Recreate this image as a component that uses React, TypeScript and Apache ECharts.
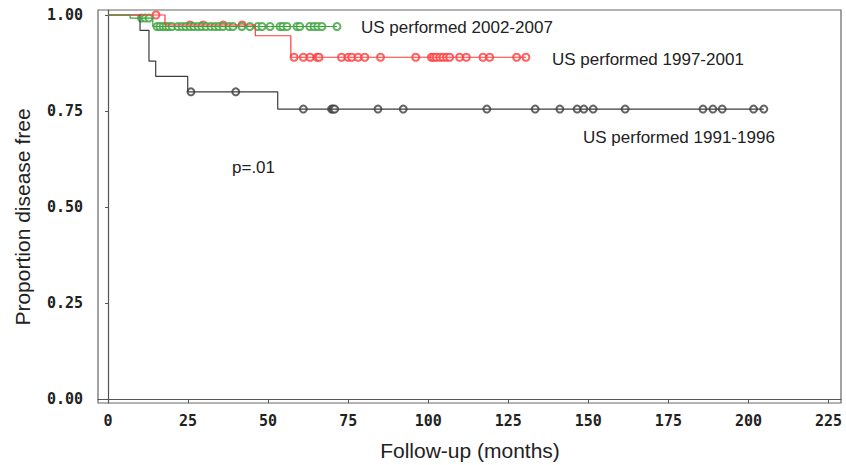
import React, { useEffect, useRef } from "react";
import * as echarts from "echarts";

// ---- Data (months / survival proportion) ----
const xTicks = [0, 25, 50, 75, 100, 125, 150, 175, 200, 225];
const yTicks = [0, 0.25, 0.5, 0.75, 1.0];

// 1991-1996 group
const blackTimes = [0, 10.0, 12.8, 14.9, 24.9, 53.0];
const blackSurv = [1, 0.96, 0.88, 0.84, 0.8, 0.755];
const blackEnd = 204.8;
const blackCensored = [25.9, 39.9, 61.0, 69.8, 70.3, 70.8, 84.3, 92.2, 118.3, 133.4, 141.1, 146.5, 148.6, 151.5, 161.5, 185.8, 188.9, 191.8, 201.6, 204.8];

// 1997-2001 group
const redTimes = [0, 17.8, 46.0, 57.1];
const redSurv = [1, 0.974, 0.946, 0.89];
const redEnd = 130.5;
const redCensored = [15.0, 25.6, 29.7, 36.0, 41.9, 58.1, 61.0, 63.1, 65.3, 65.9, 72.9, 75.0, 76.1, 78.1, 80.2, 85.1, 96.1, 101.0, 101.7, 102.5, 103.6, 104.6, 105.7, 106.7, 109.8, 111.9, 117.1, 119.2, 127.6, 130.5];

// 2002-2007 group
const greenTimes = [0, 6.9, 14.0];
const greenSurv = [1, 0.992, 0.97];
const greenEnd = 71.5;
const greenCensored = [10.4, 11.6, 12.8, 15.3, 16.2, 17.2, 18.1, 19.0, 20.0, 21.8, 23.1, 24.3, 25.6, 26.8, 28.1, 29.3, 30.6, 32.1, 33.4, 34.6, 35.9, 37.8, 39.0, 41.8, 44.3, 46.8, 48.1, 50.6, 53.7, 54.6, 55.9, 59.0, 59.9, 63.0, 64.3, 65.5, 66.8, 71.5];

const groupNames = ["US performed 1991-1996", "US performed 1997-2001", "US performed 2002-2007"];

function stepData(times: number[], surv: number[], end: number) {
  const d = times.map((t, i) => [t, surv[i]]);
  d.push([end, surv[surv.length - 1]]);
  return d;
}
function survAt(times: number[], surv: number[], t: number) {
  let s = surv[0];
  for (let i = 0; i < times.length; i++) if (times[i] <= t) s = surv[i];
  return s;
}

export default function App() {
  const ref = useRef<HTMLDivElement>(null);
  useEffect(() => {
    if (!ref.current) return;
    const chart = echarts.init(ref.current, null, { renderer: "svg" });
    const groups = [
      { times: blackTimes, surv: blackSurv, end: blackEnd, cens: blackCensored, color: "#3c3c3c", name: groupNames[0] },
      { times: redTimes, surv: redSurv, end: redEnd, cens: redCensored, color: "#ff3b3b", name: groupNames[1] },
      { times: greenTimes, surv: greenSurv, end: greenEnd, cens: greenCensored, color: "#3aa23a", name: groupNames[2] },
    ];
    const series: any[] = [];
    groups.forEach((g) => {
      series.push({
        type: "line",
        name: g.name,
        step: "end",
        data: stepData(g.times, g.surv, g.end),
        showSymbol: false,
        lineStyle: { color: g.color, width: 1.2 },
        itemStyle: { color: g.color },
        silent: true,
      });
      series.push({
        type: "scatter",
        name: g.name + " censored",
        data: g.cens.map((t) => [t, survAt(g.times, g.surv, t)]),
        symbol: "emptyCircle",
        symbolSize: 7,
        itemStyle: { color: g.color, borderColor: g.color, borderWidth: 1 },
        silent: true,
      });
    });
    const tickFont = { fontFamily: "DejaVu Sans Mono", fontWeight: "bold" as const, fontSize: 15, color: "#222" };
    const textFont = "Liberation Sans";
    chart.setOption({
      animation: false,
      grid: { left: 98, top: 10, width: 743, height: 393, show: true, borderColor: "#666", borderWidth: 1.2, backgroundColor: "#fff" },
      xAxis: {
        type: "value",
        min: -3.12,
        max: 228.9,
        splitLine: { show: false },
        axisLine: { show: true, lineStyle: { color: "#555", width: 1.2 } },
        axisTick: { show: true, customValues: xTicks, length: 4, lineStyle: { color: "#555" } },
        axisLabel: { customValues: xTicks, margin: 10, ...tickFont, formatter: (v: number) => String(Math.round(v)) },
      },
      yAxis: {
        type: "value",
        min: -0.0104,
        max: 1.013,
        splitLine: { show: false },
        axisLine: { show: true, lineStyle: { color: "#555", width: 1.2 } },
        axisTick: { show: true, customValues: yTicks, length: 3, lineStyle: { color: "#555" } },
        axisLabel: { customValues: yTicks, margin: 15, ...tickFont, formatter: (v: number) => v.toFixed(2) },
      },
      series,
      graphic: [
        { type: "text", left: 361, top: 19, style: { text: groupNames[2], fontFamily: textFont, fontSize: 17, fill: "#222" } },
        { type: "text", left: 552, top: 51, style: { text: groupNames[1], fontFamily: textFont, fontSize: 17, fill: "#222" } },
        { type: "text", left: 583, top: 129, style: { text: groupNames[0], fontFamily: textFont, fontSize: 17, fill: "#222" } },
        { type: "text", left: 232, top: 159, style: { text: "p=.01", fontFamily: textFont, fontSize: 17, fill: "#222" } },
        {
          type: "text",
          x: 22,
          y: 217,
          rotation: Math.PI / 2,
          style: { text: "Proportion disease free", fontFamily: textFont, fontSize: 21, fill: "#222", align: "center", verticalAlign: "middle" },
        },
        {
          type: "text",
          x: 470,
          y: 450,
          style: { text: "Follow-up (months)", fontFamily: textFont, fontSize: 21, fill: "#222", align: "center", verticalAlign: "middle" },
        },
      ],
    });
    return () => chart.dispose();
  }, []);
  return <div ref={ref} style={{ position: "absolute", left: 0, top: 0, width: 846, height: 465, background: "#fff" }} />;
}
